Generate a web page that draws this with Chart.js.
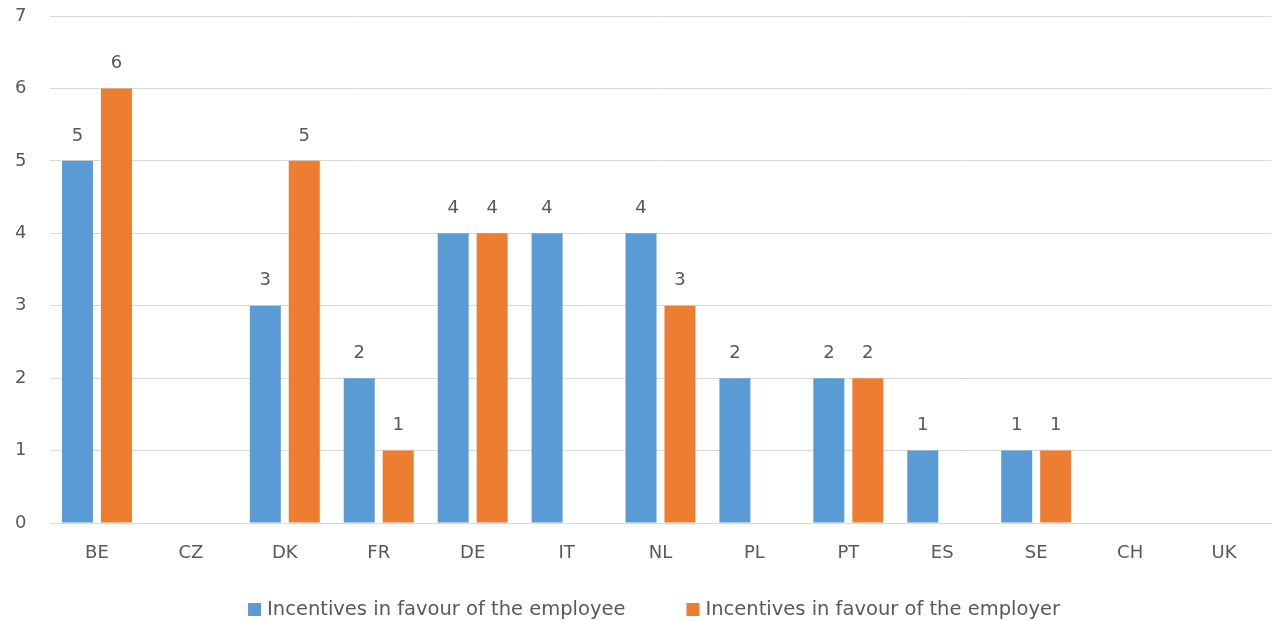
<!DOCTYPE html>
<html>
<head>
<meta charset="utf-8">
<script src="https://cdn.jsdelivr.net/npm/chart.js@4.4.1/dist/chart.umd.min.js"></script>
<style>
  html, body { margin: 0; padding: 0; background: #ffffff; }
  #wrap { width: 1278px; height: 621px; position: relative; }
</style>
</head>
<body>
<div id="wrap"><canvas id="chart" width="1278" height="621"></canvas></div>
<script>
// Number of incentives per country
const countries = ['BE', 'CZ', 'DK', 'FR', 'DE', 'IT', 'NL', 'PL', 'PT', 'ES', 'SE', 'CH', 'UK'];
const employeeIncentives = [5, 0, 3, 2, 4, 4, 4, 2, 2, 1, 1, 0, 0];
const employerIncentives = [6, 0, 5, 1, 4, 0, 3, 0, 2, 0, 1, 0, 0];
const seriesNames = ['Incentives in favour of the employee', 'Incentives in favour of the employer'];
const yTicks = [0, 1, 2, 3, 4, 5, 6, 7];

const FONT = '"DejaVu Sans", "Open Sans", sans-serif';
const TEXT = '#595959';

// Value labels above each non-zero bar
const valueLabels = {
  id: 'valueLabels',
  afterDatasetsDraw(chart) {
    const ctx = chart.ctx;
    ctx.save();
    ctx.font = '18px ' + FONT;
    ctx.fillStyle = TEXT;
    ctx.textAlign = 'center';
    ctx.textBaseline = 'middle';
    chart.data.datasets.forEach((ds, di) => {
      const meta = chart.getDatasetMeta(di);
      meta.data.forEach((bar, i) => {
        const v = ds.data[i];
        if (!v) return;
        ctx.fillText(String(v), bar.x, bar.y - 25);
      });
    });
    ctx.restore();
  }
};

// Legend row under the axis
const bottomLegend = {
  id: 'bottomLegend',
  afterDraw(chart) {
    const ctx = chart.ctx;
    ctx.save();
    ctx.font = '19.5px ' + FONT;
    ctx.textBaseline = 'middle';
    ctx.textAlign = 'left';
    const box = 13, textGap = 6, itemGap = 61;
    const items = chart.data.datasets.map(ds => ({ label: ds.label, color: ds.backgroundColor, w: ctx.measureText(ds.label).width }));
    let total = 0;
    items.forEach((it, i) => { total += box + textGap + it.w + (i ? itemGap : 0); });
    let x = 654 - total / 2;
    const cy = 609.5;
    items.forEach((it, i) => {
      if (i) x += itemGap;
      ctx.fillStyle = it.color;
      ctx.fillRect(x, cy - box / 2, box, box);
      x += box + textGap;
      ctx.fillStyle = TEXT;
      ctx.fillText(it.label, x, cy);
      x += it.w;
    });
    ctx.restore();
  }
};

new Chart(document.getElementById('chart'), {
  type: 'bar',
  data: {
    labels: countries,
    datasets: [
      { label: seriesNames[0], data: employeeIncentives, backgroundColor: '#5B9BD5', borderWidth: 0 },
      { label: seriesNames[1], data: employerIncentives, backgroundColor: '#ED7D31', borderWidth: 0 }
    ]
  },
  options: {
    responsive: false,
    animation: false,
    devicePixelRatio: 1,
    layout: { padding: { top: 16, right: 7, left: 15, bottom: 0 } },
    datasets: { bar: { categoryPercentage: 0.83, barPercentage: 0.795 } },
    plugins: {
      legend: { display: false },
      tooltip: { enabled: false }
    },
    scales: {
      x: {
        grid: { display: false, drawTicks: false },
        border: { display: true, color: '#D9D9D9', width: 1 },
        ticks: { color: TEXT, font: { family: FONT, size: 18 }, padding: 20 },
        afterFit(scale) { scale.height = 98; }
      },
      y: {
        min: 0,
        max: 7,
        afterBuildTicks(scale) { scale.ticks = yTicks.map(v => ({ value: v })); },
        grid: { color: '#D9D9D9', drawTicks: false, lineWidth: 1 },
        border: { display: false },
        ticks: { color: TEXT, font: { family: FONT, size: 18 }, padding: 2, crossAlign: 'far' },
        afterFit(scale) { scale.width = 35; }
      }
    }
  },
  plugins: [valueLabels, bottomLegend]
});
</script>
</body>
</html>
